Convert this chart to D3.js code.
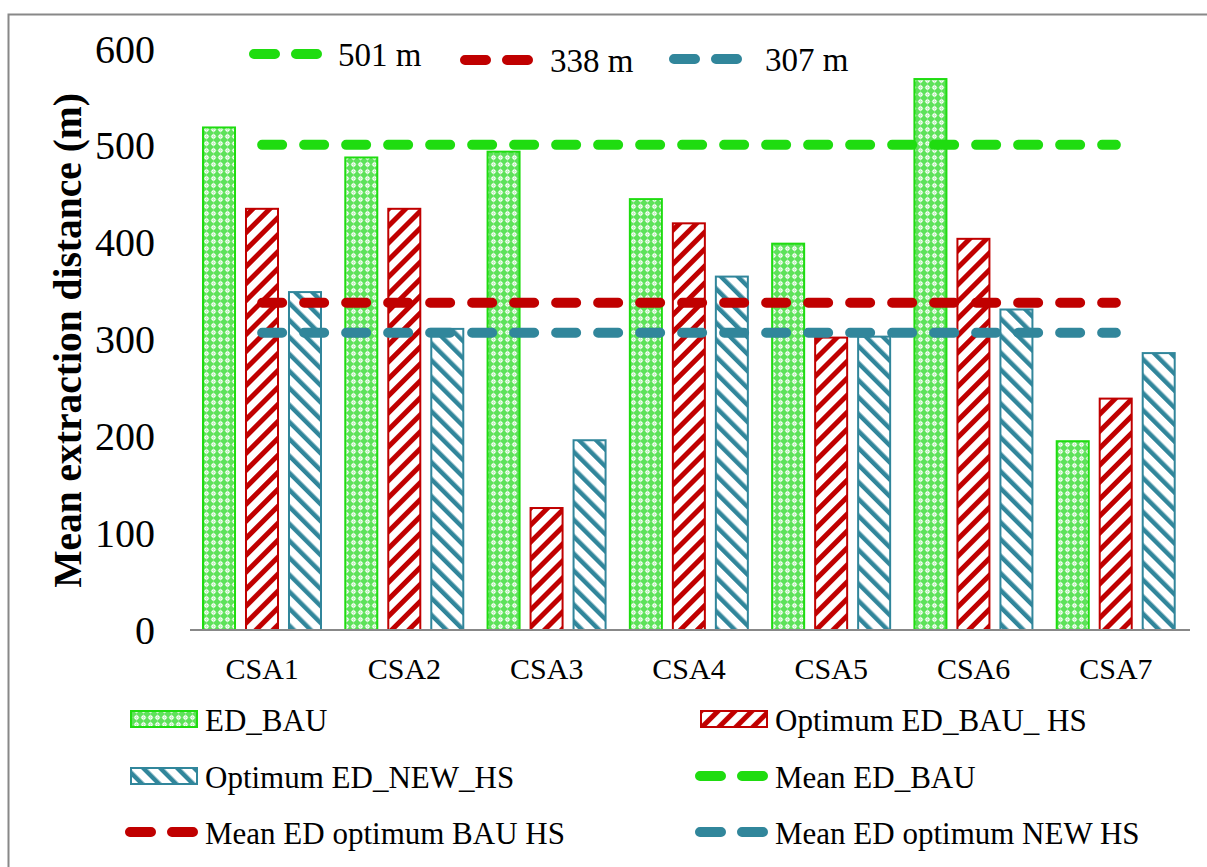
<!DOCTYPE html>
<html>
<head>
<meta charset="utf-8">
<script src="https://cdn.jsdelivr.net/npm/d3@7"></script>
<style>
  html, body { margin: 0; padding: 0; background: #fff; }
  svg { display: block; }
  text { font-family: "Liberation Serif", "Times New Roman", serif; fill: #000; }
</style>
</head>
<body>
<svg id="chart" width="1207" height="867"></svg>
<script>
// Mean extraction distance per CSA
const categories = ["CSA1", "CSA2", "CSA3", "CSA4", "CSA5", "CSA6", "CSA7"];
const edBau      = [520, 489, 495, 446, 400, 570, 196];
const optBauHs   = [436, 436, 127, 421, 303, 405, 240];
const optNewHs   = [350, 312, 197, 366, 304, 332, 287];

// Mean reference values (drawn as dashed lines)
const meanValues = [501, 338, 307];
const meanLabels = ["501 m", "338 m", "307 m"];

const yTicks = [0, 100, 200, 300, 400, 500, 600];
const yTitle = "Mean extraction distance (m)";

const barNames  = ["ED_BAU", "Optimum ED_BAU_ HS", "Optimum ED_NEW_HS"];
const meanNames = ["Mean ED_BAU", "Mean ED optimum BAU HS", "Mean ED optimum NEW HS"];

const GREEN = "#1fdc10", RED = "#c00000", BLUE = "#31869b";
const colors = [GREEN, RED, BLUE];
const series = [edBau, optBauHs, optNewHs];

const svg = d3.select("#chart");

// ---- fill patterns ----
const defs = svg.append("defs");
// green confetti-like grid
const pg = defs.append("pattern").attr("id", "pat0")
  .attr("patternUnits", "userSpaceOnUse").attr("width", 7).attr("height", 7);
pg.append("rect").attr("width", 7).attr("height", 7).attr("fill", "#5ee25a");
pg.append("path").attr("d", "M3.5,0.6 L6.4,3.5 L3.5,6.4 L0.6,3.5 Z").attr("fill", "#ffffff");
pg.append("rect").attr("x", 3).attr("y", 1.2).attr("width", 1).attr("height", 4.6).attr("fill", "#c8f3c6");
pg.append("rect").attr("x", 1.2).attr("y", 3).attr("width", 4.6).attr("height", 1).attr("fill", "#c8f3c6");

// red "/" stripes
const pr = defs.append("pattern").attr("id", "pat1")
  .attr("patternUnits", "userSpaceOnUse").attr("width", 12).attr("height", 12)
  .attr("patternTransform", "rotate(45)");
pr.append("rect").attr("width", 12).attr("height", 12).attr("fill", "#fff");
pr.append("rect").attr("width", 5).attr("height", 12).attr("fill", RED);

// blue "\" stripes
const pb = defs.append("pattern").attr("id", "pat2")
  .attr("patternUnits", "userSpaceOnUse").attr("width", 12).attr("height", 12)
  .attr("patternTransform", "rotate(-45)");
pb.append("rect").attr("width", 12).attr("height", 12).attr("fill", "#fff");
pb.append("rect").attr("width", 4.5).attr("height", 12).attr("fill", BLUE);

// ---- outer frame ----
svg.append("rect").attr("x", 8.5).attr("y", 14.5).attr("width", 1210).attr("height", 900)
  .attr("fill", "none").attr("stroke", "#888").attr("stroke-width", 2);

// ---- scales ----
const x0 = d3.scaleBand().domain(categories).range([191, 1187]).padding(0);
const x1 = d3.scaleBand().domain([0, 1, 2]).range([11, 131]).paddingInner(0.209).paddingOuter(0);
const y = d3.scaleLinear().domain([0, 600]).range([630, 49]);

// y tick labels
svg.append("g").selectAll("text").data(yTicks).join("text")
  .attr("x", 155).attr("y", d => y(d))
  .attr("text-anchor", "end").attr("dominant-baseline", "central")
  .style("font-size", "40px").text(d => d);

// y title
svg.append("text")
  .attr("transform", `translate(68,${y(300) + 1}) rotate(-90)`)
  .attr("text-anchor", "middle").attr("dominant-baseline", "central")
  .style("font-size", "39.5px").style("font-weight", "bold").text(yTitle);

// bars
series.forEach((vals, s) => {
  svg.append("g").selectAll("rect").data(vals).join("rect")
    .attr("x", (d, i) => x0(categories[i]) + x1(s) + 1)
    .attr("y", d => y(d) + 1)
    .attr("width", x1.bandwidth() - 2)
    .attr("height", d => y(0) - y(d) - 1)
    .attr("fill", `url(#pat${s})`)
    .attr("stroke", colors[s]).attr("stroke-width", 2);
});

// category axis
const xAxis = svg.append("g").attr("transform", `translate(0,${y(0)})`)
  .call(d3.axisBottom(x0).tickSize(0).tickPadding(0));
xAxis.select(".domain").attr("stroke", "#888").attr("stroke-width", 2)
  .attr("d", "M190,0H1190");
xAxis.selectAll(".tick text").attr("y", 38).attr("dy", null)
  .attr("dominant-baseline", "central")
  .style("font-size", "30px").style("font-family", "Liberation Serif").attr("fill", "#000");

// mean dashed lines across category centres
const line = d3.line().x(d => d[0]).y(d => d[1]);
meanValues.forEach((m, s) => {
  const pts = [[x0(categories[0]) + x0.bandwidth() / 2, y(m)],
               [x0(categories[categories.length - 1]) + x0.bandwidth() / 2, y(m)]];
  svg.append("path").attr("d", line(pts))
    .attr("stroke", colors[s]).attr("stroke-width", 10)
    .attr("stroke-linecap", "round").attr("stroke-dasharray", "20,22")
    .attr("fill", "none");
});

// top legend with mean values
const topLeg = [
  { x: 254, y: 54, tx: 338 },
  { x: 465, y: 60, tx: 550 },
  { x: 674, y: 59, tx: 765 }
];
topLeg.forEach((p, s) => {
  svg.append("path").attr("d", `M${p.x},${p.y}H${p.x + 64}`)
    .attr("stroke", colors[s]).attr("stroke-width", 10)
    .attr("stroke-linecap", "round").attr("stroke-dasharray", "21,21").attr("fill", "none");
  svg.append("text").attr("x", p.tx).attr("y", p.y + 1)
    .attr("dominant-baseline", "central").style("font-size", "33px").text(meanLabels[s]);
});

// bottom legend (two columns, three rows)
const legendItems = [
  { kind: "bar", s: 0, label: barNames[0] },
  { kind: "bar", s: 1, label: barNames[1] },
  { kind: "bar", s: 2, label: barNames[2] },
  { kind: "line", s: 0, label: meanNames[0] },
  { kind: "line", s: 1, label: meanNames[1] },
  { kind: "line", s: 2, label: meanNames[2] }
];
const colX = [130, 700];
const rowY = [719, 776, 832];
legendItems.forEach((it, k) => {
  const cx = colX[k % 2], cy = rowY[Math.floor(k / 2)];
  const g = svg.append("g");
  if (it.kind === "bar") {
    g.append("rect").attr("x", cx + 1).attr("y", cy - 8).attr("width", 66).attr("height", 16)
      .attr("fill", `url(#pat${it.s})`).attr("stroke", colors[it.s]).attr("stroke-width", 2);
  } else {
    g.append("path").attr("d", `M${cx},${cy}H${cx + 64}`)
      .attr("stroke", colors[it.s]).attr("stroke-width", 10)
      .attr("stroke-linecap", "round").attr("stroke-dasharray", "21,21").attr("fill", "none");
  }
  g.append("text").attr("x", cx + 75).attr("y", cy + 1)
    .attr("dominant-baseline", "central").style("font-size", "31px").text(it.label);
});
</script>
</body>
</html>
